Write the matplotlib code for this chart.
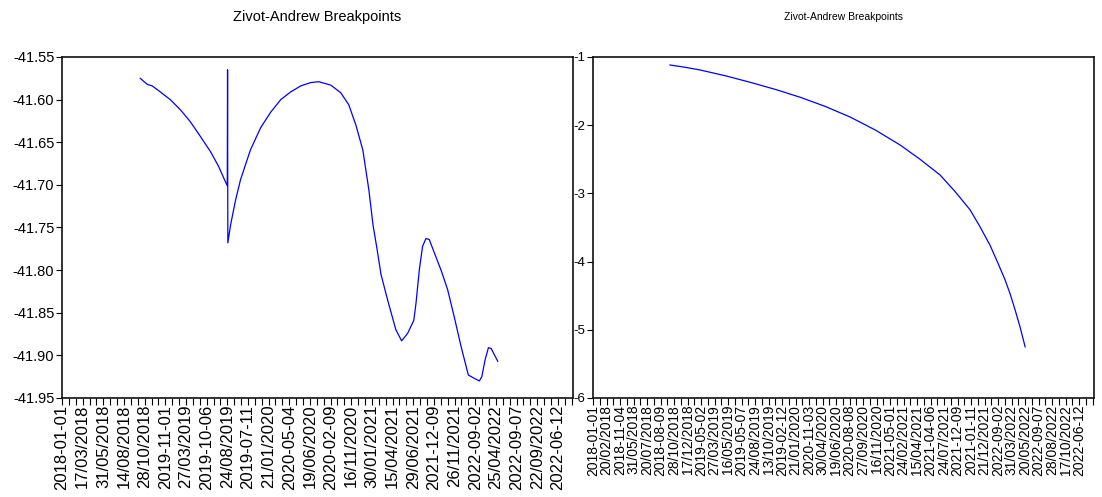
import matplotlib
matplotlib.use("Agg")
import matplotlib.pyplot as plt
from matplotlib.ticker import MultipleLocator

# ---- data ----
left_days = [284, 309, 328, 357, 393, 430, 466, 502, 539, 568, 590, 600, 601, 602,
             612, 630, 648, 684, 721, 757, 794, 830, 866, 903, 932, 976, 1012, 1041,
             1067, 1092, 1114, 1129, 1143, 1158, 1182, 1212, 1233, 1255, 1277, 1285,
             1297, 1309, 1321, 1333, 1352, 1376, 1400, 1424, 1449, 1475, 1497, 1515,
             1524, 1536, 1548, 1558, 1582]
left_vals = [-41.575, -41.582, -41.584, -41.591, -41.600, -41.612, -41.626, -41.643,
             -41.661, -41.678, -41.694, -41.701, -41.565, -41.768, -41.747, -41.718,
             -41.694, -41.659, -41.633, -41.615, -41.600, -41.591, -41.584, -41.580,
             -41.579, -41.583, -41.592, -41.606, -41.630, -41.659, -41.706, -41.747,
             -41.774, -41.805, -41.835, -41.870, -41.883, -41.874, -41.859, -41.839,
             -41.800, -41.772, -41.763, -41.764, -41.780, -41.800, -41.823, -41.855,
             -41.890, -41.923, -41.927, -41.930, -41.925, -41.905, -41.891, -41.892,
             -41.907]

right_days = [285, 340, 396, 490, 581, 675, 767, 860, 952, 1045, 1137, 1211, 1285,
              1340, 1396, 1433, 1470, 1498, 1526, 1545, 1563, 1582, 1600]
right_vals = [-1.117, -1.15, -1.19, -1.275, -1.37, -1.475, -1.59, -1.725, -1.88, -2.07,
              -2.29, -2.50, -2.73, -2.97, -3.24, -3.49, -3.76, -4.01, -4.27, -4.48,
              -4.71, -4.97, -5.25]

left_labels = ["2018-01-01", "17/03/2018", "31/05/2018", "14/08/2018", "28/10/2018",
               "2019-11-01", "27/03/2019", "2019-10-06", "24/08/2019", "2019-07-11",
               "21/01/2020", "2020-05-04", "19/06/2020", "2020-02-09", "16/11/2020",
               "30/01/2021", "15/04/2021", "29/06/2021", "2021-12-09", "26/11/2021",
               "2022-09-02", "25/04/2022", "2022-09-07", "22/09/2022", "2022-06-12"]
right_labels = ["2018-01-01", "20/02/2018", "2018-11-04", "31/05/2018", "20/07/2018",
                "2018-08-09", "28/10/2018", "17/12/2018", "2019-05-02", "27/03/2019",
                "16/05/2019", "2019-05-07", "24/08/2019", "13/10/2019", "2019-02-12",
                "21/01/2020", "2020-11-03", "30/04/2020", "19/06/2020", "2020-08-08",
                "27/09/2020", "16/11/2020", "2021-05-01", "24/02/2021", "15/04/2021",
                "2021-04-06", "24/07/2021", "2021-12-09", "2021-01-11", "21/12/2021",
                "2022-09-02", "31/03/2022", "20/05/2022", "2022-09-07", "28/08/2022",
                "17/10/2022", "2022-06-12"]
left_yticks = [-41.55, -41.60, -41.65, -41.70, -41.75, -41.80, -41.85, -41.90, -41.95]
right_yticks = [-1, -2, -3, -4, -5, -6]
title = "Zivot-Andrew Breakpoints"

X_END = 1855
LEFT_STEP = 75
RIGHT_STEP = 50

plt.rcParams['font.family'] = ['Liberation Sans', 'DejaVu Sans']

fig = plt.figure(figsize=(11.02, 4.97), dpi=100)
W, H = 1102, 497
axL = fig.add_axes([62 / W, 1 - 398 / H, 511 / W, 341 / H])
axR = fig.add_axes([593 / W, 1 - 398 / H, 501 / W, 341 / H])

for ax in (axL, axR):
    for s in ax.spines.values():
        s.set_linewidth(1.2)
        s.set_color('#111111')
    ax.set_xlim(0, X_END)
    ax.xaxis.set_major_locator(MultipleLocator(25))
    ax.tick_params(axis='x', which='major', direction='out', length=5, width=0.8,
                   labelbottom=False)
    ax.tick_params(axis='y', direction='out', length=4, width=0.8, pad=1.5)

# Left
axL.plot(left_days, left_vals, color='#0000ff', lw=0.9)
axL.set_ylim(-41.95, -41.55)
axL.set_yticks(left_yticks)
axL.set_yticklabels([f"{v:.2f}" for v in left_yticks], fontsize=10.5)
for i, lab in enumerate(left_labels):
    axL.text(i * LEFT_STEP, -0.02, lab, rotation=90, ha='center', va='top',
             fontsize=12, transform=axL.get_xaxis_transform())

# Right
axR.plot(right_days, right_vals, color='#0000ff', lw=0.9)
axR.set_ylim(-6, -1)
axR.set_yticks(right_yticks)
axR.set_yticklabels([str(v) for v in right_yticks], fontsize=9.5)
for i, lab in enumerate(right_labels):
    axR.text(i * RIGHT_STEP, -0.02, lab, rotation=90, ha='center', va='top',
             fontsize=10, transform=axR.get_xaxis_transform())

fig.text((62 + 573) / 2 / W, 1 - 17 / H, title, ha='center', va='center', fontsize=10.5)
fig.text((593 + 1094) / 2 / W, 1 - 17 / H, title, ha='center', va='center',
         fontsize=7.5)

fig.savefig("out.png", dpi=100, facecolor='white')
